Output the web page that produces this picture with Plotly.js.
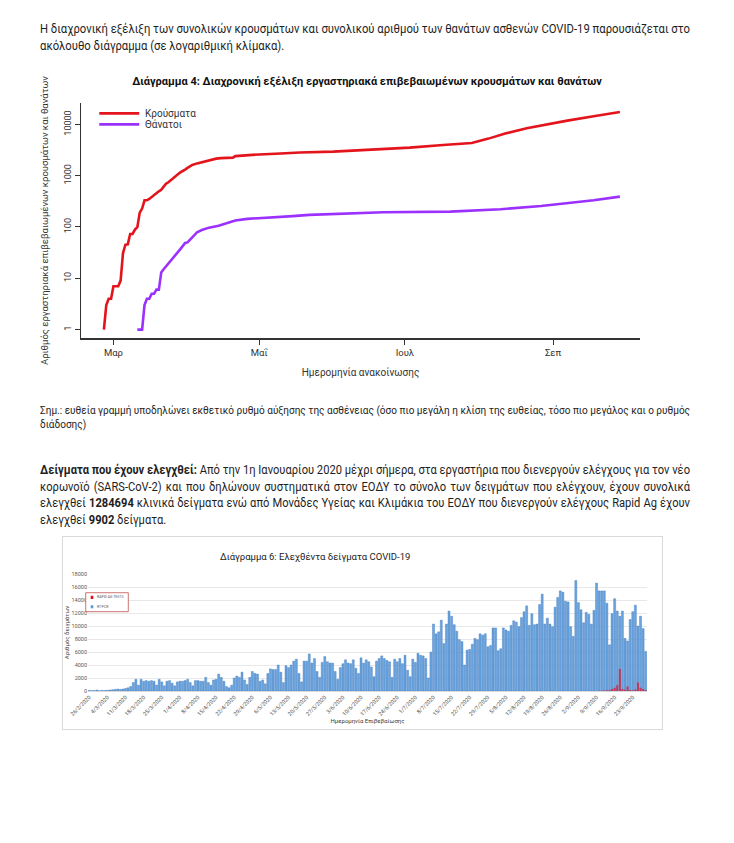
<!DOCTYPE html>
<html><head><meta charset="utf-8">
<script src="https://cdn.plot.ly/plotly-3.0.1.min.js"></script>
<style>
body{margin:0;background:#fff;width:734px;height:843px;position:relative;overflow:hidden;font-family:'Roboto',sans-serif;color:#1e1e1e;}
.ln{position:absolute;left:40px;white-space:nowrap;transform-origin:0 50%;}
.ln.j{text-align:justify;text-align-last:justify;}
.p{font-size:12.5px;height:16px;line-height:16px;}
.n{font-size:10.5px;height:14px;line-height:14px;}
#c1{position:absolute;left:0;top:60px;width:734px;height:330px;}
#c2{position:absolute;left:62px;top:536px;width:599px;height:192px;border:1px solid #d9d9d9;}
</style></head><body>
<div class="ln p" data-g="a" data-j="1" style="top:21px"><span>Η διαχρονική εξέλιξη των συνολικών κρουσμάτων και συνολικού αριθμού των θανάτων ασθενών COVID-19 παρουσιάζεται στο</span></div>
<div class="ln p" data-g="a" style="top:38px"><span>ακόλουθο διάγραμμα (σε λογαριθμική κλίμακα).</span></div>
<div id="c1"></div>
<div class="ln n" data-g="b" data-j="1" style="top:404px"><span>Σημ.: ευθεία γραμμή υποδηλώνει εκθετικό ρυθμό αύξησης της ασθένειας (όσο πιο μεγάλη η κλίση της ευθείας, τόσο πιο μεγάλος και ο ρυθμός</span></div>
<div class="ln n" data-g="b" style="top:418px"><span>διάδοσης)</span></div>
<div class="ln p" data-g="c" data-j="1" style="top:462px"><span><b>Δείγματα που έχουν ελεγχθεί:</b> Από την 1η Ιανουαρίου 2020 μέχρι σήμερα, στα εργαστήρια που διενεργούν ελέγχους για τον νέο</span></div>
<div class="ln p" data-g="c" data-j="1" style="top:479px"><span>κορωνοϊό (SARS-CoV-2) και που δηλώνουν συστηματικά στον ΕΟΔΥ το σύνολο των δειγμάτων που ελέγχουν, έχουν συνολικά</span></div>
<div class="ln p" data-g="c" data-j="1" style="top:495px"><span>ελεγχθεί <b>1284694</b> κλινικά δείγματα ενώ από Μονάδες Υγείας και Κλιμάκια του ΕΟΔΥ που διενεργούν ελέγχους Rapid Ag έχουν</span></div>
<div class="ln p" data-g="c" style="top:512px"><span>ελεγχθεί <b>9902</b> δείγματα.</span></div>
<div id="c2"></div>
<script>
// ---- Chart 1 data (cumulative, log scale) ----
const caseDates = ['2020-02-26','2020-02-27','2020-02-28','2020-02-29','2020-03-01','2020-03-03','2020-03-04','2020-03-05','2020-03-06','2020-03-07','2020-03-08','2020-03-09','2020-03-10','2020-03-11','2020-03-12','2020-03-13','2020-03-14','2020-03-15','2020-03-16','2020-03-17','2020-03-18','2020-03-19','2020-03-20','2020-03-21','2020-03-22','2020-03-23','2020-03-24','2020-03-25','2020-03-26','2020-03-27','2020-03-28','2020-03-29','2020-03-30','2020-03-31','2020-04-01','2020-04-03','2020-04-05','2020-04-07','2020-04-09','2020-04-11','2020-04-13','2020-04-15','2020-04-17','2020-04-20','2020-04-21','2020-04-25','2020-05-01','2020-05-10','2020-05-18','2020-06-01','2020-06-15','2020-07-03','2020-07-17','2020-07-29','2020-08-05','2020-08-12','2020-08-21','2020-08-29','2020-09-07','2020-09-18','2020-09-29'];
const caseValues = [1,3,4,4,7,7,9,31,45,46,73,73,89,99,190,228,331,331,352,387,418,464,495,530,624,695,743,821,892,966,1061,1156,1212,1314,1415,1613,1735,1832,1955,2081,2145,2192,2224,2245,2401,2500,2591,2710,2836,2937,3148,3519,3964,4336,5270,6632,8381,9913,11832,14400,17400];
const deathDates = ['2020-03-11','2020-03-13','2020-03-14','2020-03-15','2020-03-16','2020-03-17','2020-03-18','2020-03-19','2020-03-20','2020-03-21','2020-03-22','2020-03-23','2020-03-25','2020-03-27','2020-03-29','2020-03-31','2020-04-01','2020-04-03','2020-04-05','2020-04-07','2020-04-10','2020-04-14','2020-04-17','2020-04-21','2020-04-26','2020-05-01','2020-05-08','2020-05-15','2020-05-22','2020-06-01','2020-06-22','2020-07-20','2020-08-10','2020-08-27','2020-09-07','2020-09-18','2020-09-29'];
const deathValues = [1,1,3,4,4,5,5,6,6,13,15,17,22,28,37,49,50,63,79,87,97,106,117,134,144,150,154,163,172,179,193,199,221,257,289,331,390];
const monthTicks = ['2020-03-01','2020-05-01','2020-07-01','2020-09-01'];
const monthLabels = ['Μαρ','Μαΐ','Ιουλ','Σεπ'];
const yTicks = [1,10,100,1000,10000];
const yTickLabels = ['1','10','100','1000','10000'];

// ---- Chart 2 data (daily tests) ----
const testStart = '2020-02-26';
const pcrValues = [100,50,80,150,50,100,80,120,150,200,250,300,250,300,400,500,700,1300,
1800,900,1800,1500,1600,1500,1600,
1500,900,1800,1400,800,1500,1600,
1200,800,1400,1500,1500,1600,1800,
1300,800,1600,1600,1500,1500,2100,
1300,900,1700,1800,2600,2100,1500,
700,500,900,2000,2300,2100,2900,
1700,1000,2100,3000,2700,2600,1500,
1700,1100,2700,3400,3300,3300,4000,
2900,1300,3900,3600,4000,4600,4900,
2700,1400,4600,4600,5700,4300,5000,
3000,2100,4400,5300,4500,4300,4300,
3000,1800,3600,4200,4800,4300,4200,
4800,3500,2700,5100,4300,4800,4500,
3700,
2200,4600,5000,5400,5000,4700,4500,2100,4900,4500,
5000,4200,5500,3200,2200,4900,4400,5800,5500,5400,
5000,2000,6000,10300,8800,9100,10900,7300,10300,12300,
11500,10200,9200,7900,7600,4000,6300,6400,7200,8100,
7900,8800,8600,8800,6800,7000,9700,9700,6200,6500,
9700,9400,9200,10100,10800,10600,9900,11300,12200,13100,
10100,11900,10200,10300,13300,14900,10300,11200,10300,9900,
12900,14400,15400,15200,13800,13700,9900,8400,17000,
13600,12500,10500,12100,11800,10300,12400,16600,15400,15400,
15400,13500,7100,11900,14200,12300,11500,12300,8100,7700,
11000,12200,13200,10000,11500,9600,6100];
const rapidDates = ['2020-09-10','2020-09-11','2020-09-12','2020-09-13','2020-09-14','2020-09-15','2020-09-16','2020-09-17','2020-09-18','2020-09-19','2020-09-20','2020-09-21','2020-09-22','2020-09-23','2020-09-24','2020-09-25','2020-09-26','2020-09-27','2020-09-28'];
const rapidValues = [30,50,80,100,150,300,500,900,3400,300,200,700,150,100,250,1300,500,300,150];

const pcrDates = [];
{
  const t0 = Date.UTC(2020,1,26);
  for (let i = 0; i < pcrValues.length; i++) {
    const d = new Date(t0 + i*86400000);
    pcrDates.push(d.toISOString().slice(0,10));
  }
}

// ---- fit text lines of each paragraph into the 650px text column ----
function fitText(){
  const groups = {};
  document.querySelectorAll('.ln').forEach(l => { (groups[l.dataset.g] = groups[l.dataset.g] || []).push(l); });
  Object.values(groups).forEach(lines => {
    let s = 1;
    lines.forEach(l => { const w = l.firstElementChild.getBoundingClientRect().width; s = Math.min(s, 650 / w); });
    lines.forEach(l => {
      if (l.dataset.j) { l.classList.add('j'); l.style.width = (650 / s) + 'px'; }
      l.style.transform = 'scaleX(' + s + ')';
    });
  });
}
fitText();

const F = "Roboto, sans-serif";

// ---------- Chart 1 ----------
Plotly.newPlot('c1', [
  {x: caseDates, y: caseValues, type:'scatter', mode:'lines', name:'Κρούσματα',
   line:{color:'#e3141b', width:2.6}},
  {x: deathDates, y: deathValues, type:'scatter', mode:'lines', name:'Θάνατοι',
   line:{color:'#9b30ff', width:2.6}}
], {
  width:734, height:330, margin:{l:81, r:94, t:43, b:52},
  paper_bgcolor:'rgba(0,0,0,0)', plot_bgcolor:'rgba(0,0,0,0)',
  font:{family:F, color:'#333', size:9},
  showlegend:false,
  title:{text:'<b>Διάγραμμα 4: Διαχρονική εξέλιξη εργαστηριακά επιβεβαιωμένων κρουσμάτων και θανάτων</b>',
    font:{size:11, color:'#111', family:F}, x:0.5, xref:'container', xanchor:'center', y:0.936, yref:'container', yanchor:'middle'},
  xaxis:{type:'date', range:['2020-02-16 10:00','2020-10-07 10:00'], tickvals:monthTicks, ticktext:monthLabels,
    ticks:'outside', ticklen:5, tickcolor:'#333', showline:true, linecolor:'#333', linewidth:1.5,
    showgrid:false, zeroline:false, tickfont:{size:9.5, color:'#333'},
    title:{text:'Ημερομηνία ανακοίνωσης', font:{size:10, color:'#333'}, standoff:12}},
  yaxis:{type:'log', range:[-0.164, 4.416], tickvals:yTicks, ticktext:yTickLabels, tickangle:-90,
    ticks:'outside', ticklen:5, tickcolor:'#333', showline:true, linecolor:'#333', linewidth:1.5,
    showgrid:false, zeroline:false, tickfont:{size:9, color:'#333'},
    title:{text:'Αριθμός εργαστηριακά επιβεβαιωμένων κρουσμάτων και θανάτων', font:{size:9.5, color:'#333'}, standoff:12}},
  shapes:[
    {type:'line', xref:'paper', yref:'paper', x0:0.0327, x1:0.1042, y0:0.956, y1:0.956, line:{color:'#e3141b', width:2.6}},
    {type:'line', xref:'paper', yref:'paper', x0:0.0327, x1:0.1042, y0:0.909, y1:0.909, line:{color:'#9b30ff', width:2.6}}
  ],
  annotations:[
    {xref:'paper', yref:'paper', x:0.1114, y:0.956, text:'Κρούσματα', showarrow:false, xanchor:'left', yanchor:'middle', font:{size:10, color:'#333'}},
    {xref:'paper', yref:'paper', x:0.1114, y:0.909, text:'Θάνατοι', showarrow:false, xanchor:'left', yanchor:'middle', font:{size:10, color:'#333'}}
  ]
}, {staticPlot:true});

// ---------- Chart 2 ----------
Plotly.newPlot('c2', [
  {x: pcrDates, y: pcrValues, type:'bar', name:'RT-PCR',
   marker:{color:'#6ba3dc', line:{color:'#3b78c2', width:0.4}}},
  {x: rapidDates, y: rapidValues, type:'bar', name:'RAPID AG TESTS',
   marker:{color:'#c0395a'}}
], {
  width:599, height:192, margin:{l:25, r:15, t:37, b:38},
  paper_bgcolor:'#fff', plot_bgcolor:'#fff',
  barmode:'overlay', bargap:0.22, showlegend:false,
  font:{family:F, size:5.5, color:'#595959'},
  title:{text:'Διάγραμμα 6: Ελεχθέντα δείγματα COVID-19', font:{size:9.5, color:'#222', family:F},
    x:0.421, xref:'container', xanchor:'center', y:0.896, yref:'container', yanchor:'middle'},
  xaxis:{type:'date', range:['2020-02-25 12:00','2020-09-28 12:00'], tick0:testStart, dtick:604800000,
    tickformat:'%-d/%-m/%Y', tickangle:-45, ticks:'', showgrid:false, showline:true, linecolor:'#d9d9d9',
    zeroline:false, tickfont:{size:5.5, color:'#595959'},
    title:{text:'Ημερομηνία Επιβεβαίωσης', font:{size:6, color:'#404040'}, standoff:2}},
  yaxis:{range:[0,18000], dtick:2000, tickformat:'d', gridcolor:'#d9d9d9', gridwidth:0.6, zeroline:false, showline:false,
    ticks:'', tickfont:{size:5.5, color:'#595959'},
    title:{text:'Αριθμός δειγμάτων', font:{size:6, color:'#404040'}, standoff:4}},
  shapes:[
    {type:'rect', xref:'paper', yref:'paper', x0:-0.0041, x1:0.0721, y0:0.678, y1:0.840, line:{color:'#c0504d', width:0.8}, fillcolor:'#fff'},
    {type:'rect', xref:'paper', yref:'paper', x0:0.0048, x1:0.0095, y0:0.786, y1:0.814, line:{width:0}, fillcolor:'#e0101a'},
    {type:'rect', xref:'paper', yref:'paper', x0:0.0048, x1:0.0095, y0:0.707, y1:0.733, line:{width:0}, fillcolor:'#5b9bd5'}
  ],
  annotations:[
    {xref:'paper', yref:'paper', x:0.012, y:0.800, text:'RAPID AG TESTS', showarrow:false, xanchor:'left', yanchor:'middle', font:{size:3.5, color:'#595959'}},
    {xref:'paper', yref:'paper', x:0.012, y:0.720, text:'RT-PCR', showarrow:false, xanchor:'left', yanchor:'middle', font:{size:3.5, color:'#595959'}}
  ]
}, {staticPlot:true});
</script>
</body></html>
